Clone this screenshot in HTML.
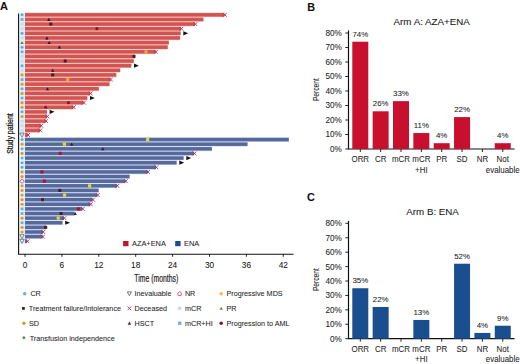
<!DOCTYPE html>
<html><head><meta charset="utf-8"><style>
html,body{margin:0;padding:0;background:#fff;}
body{width:520px;height:364px;overflow:hidden;}
svg{display:block;font-family:"Liberation Sans", sans-serif;}
text{stroke:#333;stroke-width:0.06px;}
</style></head><body>
<svg width="520" height="364" viewBox="0 0 520 364" fill="#111">
<rect width="520" height="364" fill="#fff"/>
<text x="0" y="10" font-size="11" font-weight="bold">A</text>
<text x="307.2" y="10.6" font-size="10.8" font-weight="bold">B</text>
<text x="307" y="200.8" font-size="10.9" font-weight="bold">C</text>
<rect x="19.6" y="12.6" width="4.8" height="122.6" fill="#e2eff9"/>
<rect x="19.6" y="137.0" width="4.8" height="106.5" fill="#eef5fb"/>
<rect x="23.5" y="12.6" width="1.0" height="231" fill="#c6e3f6"/>
<rect x="25.00" y="12.54" width="199.40" height="4.62" fill="#f3c0ba"/>
<rect x="25.00" y="17.16" width="178.40" height="4.62" fill="#f3c0ba"/>
<rect x="25.00" y="21.78" width="170.00" height="4.62" fill="#f3c0ba"/>
<rect x="25.00" y="26.40" width="156.00" height="4.62" fill="#f3c0ba"/>
<rect x="25.00" y="31.02" width="155.60" height="4.62" fill="#f3c0ba"/>
<rect x="25.00" y="35.64" width="155.10" height="4.62" fill="#f3c0ba"/>
<rect x="25.00" y="40.26" width="143.90" height="4.62" fill="#f3c0ba"/>
<rect x="25.00" y="44.88" width="142.70" height="4.62" fill="#f3c0ba"/>
<rect x="25.00" y="49.50" width="130.50" height="4.62" fill="#f3c0ba"/>
<rect x="25.00" y="54.12" width="109.80" height="4.62" fill="#f3c0ba"/>
<rect x="25.00" y="58.74" width="108.70" height="4.62" fill="#f3c0ba"/>
<rect x="25.00" y="63.36" width="106.30" height="4.62" fill="#f3c0ba"/>
<rect x="25.00" y="67.98" width="95.20" height="4.62" fill="#f3c0ba"/>
<rect x="25.00" y="72.60" width="91.30" height="4.62" fill="#f3c0ba"/>
<rect x="25.00" y="77.22" width="85.40" height="4.62" fill="#f3c0ba"/>
<rect x="25.00" y="81.84" width="84.40" height="4.62" fill="#f3c0ba"/>
<rect x="25.00" y="86.46" width="73.80" height="4.62" fill="#f3c0ba"/>
<rect x="25.00" y="91.08" width="65.20" height="4.62" fill="#f3c0ba"/>
<rect x="25.00" y="95.70" width="62.30" height="4.62" fill="#f3c0ba"/>
<rect x="25.00" y="100.32" width="58.50" height="4.62" fill="#f3c0ba"/>
<rect x="25.00" y="104.94" width="48.30" height="4.62" fill="#f3c0ba"/>
<rect x="25.00" y="109.56" width="21.90" height="4.62" fill="#f3c0ba"/>
<rect x="25.00" y="114.18" width="21.90" height="4.62" fill="#f3c0ba"/>
<rect x="25.00" y="118.80" width="20.60" height="4.62" fill="#f3c0ba"/>
<rect x="25.00" y="123.42" width="15.80" height="4.62" fill="#f3c0ba"/>
<rect x="25.00" y="128.04" width="14.80" height="4.62" fill="#f3c0ba"/>
<rect x="25.00" y="132.66" width="2.70" height="4.62" fill="#f3c0ba"/>
<rect x="25.00" y="137.28" width="263.80" height="4.62" fill="#cfd6ee"/>
<rect x="25.00" y="141.90" width="222.50" height="4.62" fill="#cfd6ee"/>
<rect x="25.00" y="146.52" width="186.90" height="4.62" fill="#cfd6ee"/>
<rect x="25.00" y="151.14" width="169.10" height="4.62" fill="#cfd6ee"/>
<rect x="25.00" y="155.76" width="158.60" height="4.62" fill="#cfd6ee"/>
<rect x="25.00" y="160.38" width="151.60" height="4.62" fill="#cfd6ee"/>
<rect x="25.00" y="165.00" width="131.00" height="4.62" fill="#cfd6ee"/>
<rect x="25.00" y="169.62" width="122.60" height="4.62" fill="#cfd6ee"/>
<rect x="25.00" y="174.24" width="104.60" height="4.62" fill="#cfd6ee"/>
<rect x="25.00" y="178.86" width="100.40" height="4.62" fill="#cfd6ee"/>
<rect x="25.00" y="183.48" width="91.90" height="4.62" fill="#cfd6ee"/>
<rect x="25.00" y="188.10" width="73.60" height="4.62" fill="#cfd6ee"/>
<rect x="25.00" y="192.72" width="72.30" height="4.62" fill="#cfd6ee"/>
<rect x="25.00" y="197.34" width="67.50" height="4.62" fill="#cfd6ee"/>
<rect x="25.00" y="201.96" width="65.30" height="4.62" fill="#cfd6ee"/>
<rect x="25.00" y="206.58" width="57.30" height="4.62" fill="#cfd6ee"/>
<rect x="25.00" y="211.20" width="49.60" height="4.62" fill="#cfd6ee"/>
<rect x="25.00" y="215.82" width="39.00" height="4.62" fill="#cfd6ee"/>
<rect x="25.00" y="220.44" width="37.50" height="4.62" fill="#cfd6ee"/>
<rect x="25.00" y="225.06" width="21.00" height="4.62" fill="#cfd6ee"/>
<rect x="25.00" y="229.68" width="17.80" height="4.62" fill="#cfd6ee"/>
<rect x="25.00" y="234.30" width="17.50" height="4.62" fill="#cfd6ee"/>
<rect x="25.00" y="238.92" width="2.10" height="4.62" fill="#cfd6ee"/>
<rect x="25.00" y="13.10" width="199.40" height="3.5" fill="#d25452"/>
<rect x="25.00" y="17.72" width="178.40" height="3.5" fill="#d25452"/>
<rect x="25.00" y="22.34" width="170.00" height="3.5" fill="#d25452"/>
<rect x="25.00" y="26.96" width="156.00" height="3.5" fill="#d25452"/>
<rect x="25.00" y="31.58" width="155.60" height="3.5" fill="#d25452"/>
<rect x="25.00" y="36.20" width="155.10" height="3.5" fill="#d25452"/>
<rect x="25.00" y="40.82" width="143.90" height="3.5" fill="#d25452"/>
<rect x="25.00" y="45.44" width="142.70" height="3.5" fill="#d25452"/>
<rect x="25.00" y="50.06" width="130.50" height="3.5" fill="#d25452"/>
<rect x="25.00" y="54.68" width="109.80" height="3.5" fill="#d25452"/>
<rect x="25.00" y="59.30" width="108.70" height="3.5" fill="#d25452"/>
<rect x="25.00" y="63.92" width="106.30" height="3.5" fill="#d25452"/>
<rect x="25.00" y="68.54" width="95.20" height="3.5" fill="#d25452"/>
<rect x="25.00" y="73.16" width="91.30" height="3.5" fill="#d25452"/>
<rect x="25.00" y="77.78" width="85.40" height="3.5" fill="#d25452"/>
<rect x="25.00" y="82.40" width="84.40" height="3.5" fill="#d25452"/>
<rect x="25.00" y="87.02" width="73.80" height="3.5" fill="#d25452"/>
<rect x="25.00" y="91.64" width="65.20" height="3.5" fill="#d25452"/>
<rect x="25.00" y="96.26" width="62.30" height="3.5" fill="#d25452"/>
<rect x="25.00" y="100.88" width="58.50" height="3.5" fill="#d25452"/>
<rect x="25.00" y="105.50" width="48.30" height="3.5" fill="#d25452"/>
<rect x="25.00" y="110.12" width="21.90" height="3.5" fill="#d25452"/>
<rect x="25.00" y="114.74" width="21.90" height="3.5" fill="#d25452"/>
<rect x="25.00" y="119.36" width="20.60" height="3.5" fill="#d25452"/>
<rect x="25.00" y="123.98" width="15.80" height="3.5" fill="#d25452"/>
<rect x="25.00" y="128.60" width="14.80" height="3.5" fill="#d25452"/>
<rect x="25.00" y="133.22" width="2.70" height="3.5" fill="#d25452"/>
<rect x="25.00" y="137.84" width="263.80" height="3.5" fill="#55699c"/>
<rect x="25.00" y="142.46" width="222.50" height="3.5" fill="#55699c"/>
<rect x="25.00" y="147.08" width="186.90" height="3.5" fill="#55699c"/>
<rect x="25.00" y="151.70" width="169.10" height="3.5" fill="#55699c"/>
<rect x="25.00" y="156.32" width="158.60" height="3.5" fill="#55699c"/>
<rect x="25.00" y="160.94" width="151.60" height="3.5" fill="#55699c"/>
<rect x="25.00" y="165.56" width="131.00" height="3.5" fill="#55699c"/>
<rect x="25.00" y="170.18" width="122.60" height="3.5" fill="#55699c"/>
<rect x="25.00" y="174.80" width="104.60" height="3.5" fill="#55699c"/>
<rect x="25.00" y="179.42" width="100.40" height="3.5" fill="#55699c"/>
<rect x="25.00" y="184.04" width="91.90" height="3.5" fill="#55699c"/>
<rect x="25.00" y="188.66" width="73.60" height="3.5" fill="#55699c"/>
<rect x="25.00" y="193.28" width="72.30" height="3.5" fill="#55699c"/>
<rect x="25.00" y="197.90" width="67.50" height="3.5" fill="#55699c"/>
<rect x="25.00" y="202.52" width="65.30" height="3.5" fill="#55699c"/>
<rect x="25.00" y="207.14" width="57.30" height="3.5" fill="#55699c"/>
<rect x="25.00" y="211.76" width="49.60" height="3.5" fill="#55699c"/>
<rect x="25.00" y="216.38" width="39.00" height="3.5" fill="#55699c"/>
<rect x="25.00" y="221.00" width="37.50" height="3.5" fill="#55699c"/>
<rect x="25.00" y="225.62" width="21.00" height="3.5" fill="#55699c"/>
<rect x="25.00" y="230.24" width="17.80" height="3.5" fill="#55699c"/>
<rect x="25.00" y="234.86" width="17.50" height="3.5" fill="#55699c"/>
<rect x="25.00" y="239.48" width="2.10" height="3.5" fill="#55699c"/>
<path d="M47.10 20.89L48.80 17.84L50.50 20.89Z" fill="#2c1838"/>
<rect x="49.30" y="22.59" width="3.00" height="3.00" fill="#45201a"/>
<circle cx="96.90" cy="28.71" r="1.60" fill="#9a1020"/>
<path d="M45.20 39.38L46.90 36.33L48.60 39.38Z" fill="#2c1838"/>
<path d="M47.50 43.99L49.20 40.95L50.90 43.99Z" fill="#2c1838"/>
<path d="M57.70 48.62L59.40 45.57L61.10 48.62Z" fill="#2c1838"/>
<rect x="144.40" y="50.21" width="3.2" height="3.2" rx="0.6" fill="#f2aa2a"/>
<rect x="132.50" y="54.93" width="3.00" height="3.00" fill="#45201a"/>
<rect x="63.70" y="59.55" width="3.00" height="3.00" fill="#45201a"/>
<path d="M51.00 71.71L52.70 68.66L54.40 71.71Z" fill="#2c1838"/>
<rect x="51.20" y="73.41" width="3.00" height="3.00" fill="#45201a"/>
<rect x="66.10" y="77.93" width="3.2" height="3.2" rx="0.6" fill="#f2aa2a"/>
<path d="M45.80 90.19L47.50 87.14L49.20 90.19Z" fill="#2c1838"/>
<circle cx="68.50" cy="102.63" r="1.60" fill="#9a1020"/>
<circle cx="45.60" cy="107.25" r="1.60" fill="#9a1020"/>
<path d="M36.10 137.99L37.70 139.59L36.10 141.19L34.50 139.59Z" fill="#3c8f4c"/>
<rect x="146.00" y="137.99" width="3.2" height="3.2" rx="0.6" fill="#e2dc2c"/>
<path d="M53.40 142.61L55.00 144.21L53.40 145.81L51.80 144.21Z" fill="#3c8f4c"/>
<rect x="62.80" y="142.61" width="3.2" height="3.2" rx="0.6" fill="#e2dc2c"/>
<path d="M70.00 145.64L71.70 142.59L73.40 145.64Z" fill="#2c1838"/>
<path d="M101.10 150.25L102.80 147.20L104.50 150.25Z" fill="#2c1838"/>
<rect x="58.60" y="151.85" width="3.2" height="3.2" rx="0.5" fill="#b0103a"/>
<path d="M53.40 156.47L55.00 158.07L53.40 159.67L51.80 158.07Z" fill="#3c8f4c"/>
<rect x="40.30" y="170.33" width="3.2" height="3.2" rx="0.5" fill="#b0103a"/>
<rect x="42.80" y="179.57" width="3.2" height="3.2" rx="0.5" fill="#b0103a"/>
<rect x="88.00" y="184.19" width="3.2" height="3.2" rx="0.6" fill="#e2dc2c"/>
<rect x="58.30" y="188.91" width="3.00" height="3.00" fill="#45201a"/>
<rect x="63.00" y="193.43" width="3.2" height="3.2" rx="0.6" fill="#e2dc2c"/>
<rect x="41.00" y="198.15" width="3.00" height="3.00" fill="#45201a"/>
<rect x="76.80" y="207.29" width="3.2" height="3.2" rx="0.5" fill="#b0103a"/>
<rect x="59.60" y="212.01" width="3.00" height="3.00" fill="#45201a"/>
<path d="M73.50 214.94L75.20 211.88L76.90 214.94Z" fill="#2c1838"/>
<rect x="56.60" y="216.53" width="3.2" height="3.2" rx="0.6" fill="#e2dc2c"/>
<rect x="44.20" y="225.87" width="3.00" height="3.00" fill="#45201a"/>
<path d="M222.90 12.95L226.70 16.75M226.70 12.95L222.90 16.75" stroke="#a82a50" stroke-width="0.9" fill="none"/>
<path d="M193.50 22.19L197.30 25.99M197.30 22.19L193.50 25.99" stroke="#a82a50" stroke-width="0.9" fill="none"/>
<path d="M179.50 26.81L183.30 30.61M183.30 26.81L179.50 30.61" stroke="#a82a50" stroke-width="0.9" fill="none"/>
<path d="M183.30 31.23L188.20 33.33L183.30 35.43Z" fill="#111"/>
<path d="M154.00 49.91L157.80 53.71M157.80 49.91L154.00 53.71" stroke="#a82a50" stroke-width="0.9" fill="none"/>
<path d="M134.00 63.57L138.90 65.67L134.00 67.77Z" fill="#111"/>
<path d="M108.90 77.63L112.70 81.43M112.70 77.63L108.90 81.43" stroke="#a82a50" stroke-width="0.9" fill="none"/>
<path d="M88.70 91.49L92.50 95.29M92.50 91.49L88.70 95.29" stroke="#a82a50" stroke-width="0.9" fill="none"/>
<path d="M90.00 95.91L94.90 98.01L90.00 100.11Z" fill="#111"/>
<path d="M82.00 100.73L85.80 104.53M85.80 100.73L82.00 104.53" stroke="#a82a50" stroke-width="0.9" fill="none"/>
<path d="M71.80 105.35L75.60 109.15M75.60 105.35L71.80 109.15" stroke="#a82a50" stroke-width="0.9" fill="none"/>
<path d="M49.60 109.77L54.50 111.87L49.60 113.97Z" fill="#111"/>
<path d="M45.40 114.59L49.20 118.39M49.20 114.59L45.40 118.39" stroke="#a82a50" stroke-width="0.9" fill="none"/>
<path d="M44.10 119.21L47.90 123.01M47.90 119.21L44.10 123.01" stroke="#a82a50" stroke-width="0.9" fill="none"/>
<path d="M39.30 123.83L43.10 127.63M43.10 123.83L39.30 127.63" stroke="#a82a50" stroke-width="0.9" fill="none"/>
<path d="M38.30 128.45L42.10 132.25M42.10 128.45L38.30 132.25" stroke="#a82a50" stroke-width="0.9" fill="none"/>
<path d="M26.20 133.07L30.00 136.87M30.00 133.07L26.20 136.87" stroke="#a82a50" stroke-width="0.9" fill="none"/>
<path d="M192.60 151.55L196.40 155.35M196.40 151.55L192.60 155.35" stroke="#a82a50" stroke-width="0.9" fill="none"/>
<path d="M186.30 155.97L191.20 158.07L186.30 160.17Z" fill="#111"/>
<path d="M179.30 160.59L184.20 162.69L179.30 164.79Z" fill="#111"/>
<path d="M154.50 165.41L158.30 169.21M158.30 165.41L154.50 169.21" stroke="#a82a50" stroke-width="0.9" fill="none"/>
<path d="M146.10 170.03L149.90 173.83M149.90 170.03L146.10 173.83" stroke="#a82a50" stroke-width="0.9" fill="none"/>
<path d="M123.90 179.27L127.70 183.07M127.70 179.27L123.90 183.07" stroke="#a82a50" stroke-width="0.9" fill="none"/>
<path d="M115.40 183.89L119.20 187.69M119.20 183.89L115.40 187.69" stroke="#a82a50" stroke-width="0.9" fill="none"/>
<path d="M95.80 193.13L99.60 196.93M99.60 193.13L95.80 196.93" stroke="#a82a50" stroke-width="0.9" fill="none"/>
<path d="M91.00 197.75L94.80 201.55M94.80 197.75L91.00 201.55" stroke="#a82a50" stroke-width="0.9" fill="none"/>
<path d="M88.80 202.37L92.60 206.17M92.60 202.37L88.80 206.17" stroke="#a82a50" stroke-width="0.9" fill="none"/>
<path d="M80.80 206.99L84.60 210.79M84.60 206.99L80.80 210.79" stroke="#a82a50" stroke-width="0.9" fill="none"/>
<path d="M62.50 216.23L66.30 220.03M66.30 216.23L62.50 220.03" stroke="#a82a50" stroke-width="0.9" fill="none"/>
<path d="M65.20 220.65L70.10 222.75L65.20 224.85Z" fill="#111"/>
<path d="M41.30 230.09L45.10 233.89M45.10 230.09L41.30 233.89" stroke="#a82a50" stroke-width="0.9" fill="none"/>
<path d="M41.00 234.71L44.80 238.51M44.80 234.71L41.00 238.51" stroke="#a82a50" stroke-width="0.9" fill="none"/>
<path d="M25.60 239.33L29.40 243.13M29.40 239.33L25.60 243.13" stroke="#a82a50" stroke-width="0.9" fill="none"/>
<circle cx="22.00" cy="14.85" r="1.50" fill="#55b0e0"/>
<rect x="20.60" y="18.07" width="2.80" height="2.80" fill="#73acd8"/>
<rect x="20.60" y="22.69" width="2.80" height="2.80" fill="#c9dced"/>
<rect x="20.60" y="27.31" width="2.80" height="2.80" fill="#c9dced"/>
<circle cx="22.00" cy="33.33" r="1.50" fill="#55b0e0"/>
<rect x="20.60" y="36.55" width="2.80" height="2.80" fill="#c9dced"/>
<path d="M20.30 43.99L22.00 40.95L23.70 43.99Z" fill="#9a6a2a"/>
<circle cx="22.00" cy="47.19" r="1.50" fill="#55b0e0"/>
<circle cx="22.00" cy="51.81" r="1.50" fill="#55b0e0"/>
<rect x="20.60" y="55.03" width="2.80" height="2.80" fill="#c9dced"/>
<rect x="20.60" y="59.65" width="2.80" height="2.80" fill="#c9dced"/>
<circle cx="22.00" cy="65.67" r="1.50" fill="#55b0e0"/>
<rect x="20.60" y="68.89" width="2.80" height="2.80" fill="#c9dced"/>
<circle cx="22.00" cy="74.91" r="1.60" fill="#e49a2a"/>
<rect x="20.60" y="78.13" width="2.80" height="2.80" fill="#73acd8"/>
<circle cx="22.00" cy="84.15" r="1.60" fill="#e49a2a"/>
<circle cx="22.00" cy="88.77" r="1.50" fill="#55b0e0"/>
<circle cx="22.00" cy="93.39" r="1.60" fill="#e49a2a"/>
<circle cx="22.00" cy="98.01" r="1.50" fill="#55b0e0"/>
<circle cx="22.00" cy="102.63" r="1.60" fill="#e49a2a"/>
<circle cx="22.00" cy="107.25" r="1.60" fill="#e49a2a"/>
<circle cx="22.00" cy="111.87" r="1.50" fill="#55b0e0"/>
<circle cx="22.00" cy="116.49" r="1.60" fill="#e49a2a"/>
<rect x="20.60" y="119.71" width="2.80" height="2.80" fill="#c9dced"/>
<rect x="20.60" y="124.33" width="2.80" height="2.80" fill="#c9dced"/>
<rect x="20.60" y="128.95" width="2.80" height="2.80" fill="#c9dced"/>
<path d="M19.80 133.07L24.20 133.07L22.00 137.17Z" fill="none" stroke="#6a6a6a" stroke-width="0.8"/>
<circle cx="22.00" cy="139.59" r="1.50" fill="#55b0e0"/>
<circle cx="22.00" cy="144.21" r="1.60" fill="#e49a2a"/>
<circle cx="22.00" cy="148.83" r="1.50" fill="#55b0e0"/>
<circle cx="22.00" cy="153.45" r="1.60" fill="#e49a2a"/>
<circle cx="22.00" cy="158.07" r="1.50" fill="#55b0e0"/>
<circle cx="22.00" cy="162.69" r="1.50" fill="#55b0e0"/>
<circle cx="22.00" cy="167.31" r="1.50" fill="#55b0e0"/>
<circle cx="22.00" cy="171.93" r="1.60" fill="#e49a2a"/>
<circle cx="22.00" cy="176.55" r="1.60" fill="#e49a2a"/>
<path d="M22.00 178.87L24.30 181.17L22.00 183.47L19.70 181.17Z" fill="none" stroke="#e0409a" stroke-width="0.9"/>
<circle cx="22.00" cy="185.79" r="1.60" fill="#e49a2a"/>
<circle cx="22.00" cy="190.41" r="1.60" fill="#e49a2a"/>
<circle cx="22.00" cy="195.03" r="1.60" fill="#e49a2a"/>
<circle cx="22.00" cy="199.65" r="1.60" fill="#e49a2a"/>
<circle cx="22.00" cy="204.27" r="1.60" fill="#e49a2a"/>
<rect x="20.60" y="207.49" width="2.80" height="2.80" fill="#73acd8"/>
<rect x="20.60" y="212.11" width="2.80" height="2.80" fill="#73acd8"/>
<circle cx="22.00" cy="218.13" r="1.60" fill="#e49a2a"/>
<rect x="20.60" y="221.35" width="2.80" height="2.80" fill="#73acd8"/>
<circle cx="22.00" cy="227.37" r="1.60" fill="#e49a2a"/>
<circle cx="22.00" cy="231.99" r="1.60" fill="#e49a2a"/>
<path d="M19.80 234.71L24.20 234.71L22.00 238.81Z" fill="none" stroke="#6a6a6a" stroke-width="0.8"/>
<path d="M19.80 239.33L24.20 239.33L22.00 243.43Z" fill="none" stroke="#6a6a6a" stroke-width="0.8"/>
<path d="M18.6 13.6V254.3H293.5" stroke="#111" stroke-width="1.1" fill="none"/>
<path d="M25.00 254V256.8" stroke="#111" stroke-width="0.9"/>
<text x="25.00" y="268.3" font-size="8.3" text-anchor="middle">0</text>
<path d="M61.90 254V256.8" stroke="#111" stroke-width="0.9"/>
<text x="61.90" y="268.3" font-size="8.3" text-anchor="middle">6</text>
<path d="M98.80 254V256.8" stroke="#111" stroke-width="0.9"/>
<text x="98.80" y="268.3" font-size="8.3" text-anchor="middle">12</text>
<path d="M135.70 254V256.8" stroke="#111" stroke-width="0.9"/>
<text x="135.70" y="268.3" font-size="8.3" text-anchor="middle">18</text>
<path d="M172.60 254V256.8" stroke="#111" stroke-width="0.9"/>
<text x="172.60" y="268.3" font-size="8.3" text-anchor="middle">24</text>
<path d="M209.50 254V256.8" stroke="#111" stroke-width="0.9"/>
<text x="209.50" y="268.3" font-size="8.3" text-anchor="middle">30</text>
<path d="M246.40 254V256.8" stroke="#111" stroke-width="0.9"/>
<text x="246.40" y="268.3" font-size="8.3" text-anchor="middle">36</text>
<path d="M283.30 254V256.8" stroke="#111" stroke-width="0.9"/>
<text x="283.30" y="268.3" font-size="8.3" text-anchor="middle">42</text>
<text transform="translate(156.3 281.7) scale(0.685 1)" font-size="10" style="stroke:#222;stroke-width:0.2px" text-anchor="middle" fill="#1a1a1a">Time (months)</text>
<text transform="translate(12.5 133.6) rotate(-90) scale(0.8 1)" font-size="8.7" text-anchor="middle" style="stroke:#111;stroke-width:0.22px">Study patient</text>
<rect x="123.1" y="241.0" width="5.4" height="5.2" fill="#c8102e"/>
<text x="132.0" y="246.3" font-size="7.4" fill="#222">AZA+ENA</text>
<rect x="175.2" y="241.0" width="5.4" height="5.2" fill="#1a4f8f"/>
<text x="184.1" y="246.3" font-size="7.4" fill="#222">ENA</text>
<circle cx="24.7" cy="293.7" r="1.75" fill="#62b4de"/>
<text transform="translate(30.4 296.45) scale(0.94 1)" font-size="7.7" fill="#222">CR</text>
<rect x="22.00" y="307.00" width="2.80" height="2.80" fill="#45201a"/>
<text transform="translate(28.8 311.15) scale(0.94 1)" font-size="7.7" fill="#222">Treatment failure/Intolerance</text>
<circle cx="23.9" cy="323.2" r="1.75" fill="#cfa23a"/>
<text transform="translate(28.9 325.95) scale(0.94 1)" font-size="7.7" fill="#222">SD</text>
<path d="M23.90 336.10L25.60 337.80L23.90 339.50L22.20 337.80Z" fill="#3c8f4c"/>
<text transform="translate(29.7 340.55) scale(0.94 1)" font-size="7.7" fill="#222">Transfusion independence</text>
<path d="M127.30 291.90L131.50 291.90L129.40 295.70Z" fill="none" stroke="#555" stroke-width="0.8"/>
<text transform="translate(134.5 296.45) scale(0.94 1)" font-size="7.7" fill="#222">Inevaluable</text>
<path d="M127.60 306.60L131.20 310.20M131.20 306.60L127.60 310.20" stroke="#c42e5e" stroke-width="0.95" fill="none"/>
<text transform="translate(134.5 311.15) scale(0.94 1)" font-size="7.7" fill="#222">Deceased</text>
<path d="M127.70 324.70L129.40 321.50L131.10 324.70Z" fill="#4a1a52"/>
<text transform="translate(134.5 325.95) scale(0.94 1)" font-size="7.7" fill="#222">HSCT</text>
<path d="M179.70 291.60L181.80 293.30L181.00 295.60L178.40 295.60L177.60 293.30Z" fill="none" stroke="#d8367e" stroke-width="0.85"/>
<text transform="translate(184.9 296.45) scale(0.94 1)" font-size="7.7" fill="#222">NR</text>
<rect x="178.05" y="306.75" width="3.30" height="3.30" fill="#c9dced"/>
<text transform="translate(184.9 311.15) scale(0.94 1)" font-size="7.7" fill="#222">mCR</text>
<rect x="178.05" y="321.55" width="3.30" height="3.30" fill="#73acd8"/>
<text transform="translate(184.9 325.95) scale(0.94 1)" font-size="7.7" fill="#222">mCR+HI</text>
<circle cx="221.2" cy="293.7" r="1.7" fill="#f0c030"/>
<text transform="translate(226.4 296.45) scale(0.94 1)" font-size="7.7" fill="#222">Progressive MDS</text>
<path d="M219.50 309.82L221.20 306.77L222.90 309.82Z" fill="#9a6a2a"/>
<text transform="translate(226.4 311.15) scale(0.94 1)" font-size="7.7" fill="#222">PR</text>
<circle cx="221.2" cy="323.2" r="1.75" fill="#8e1020"/>
<text transform="translate(226.4 325.95) scale(0.94 1)" font-size="7.7" fill="#222">Progression to AML</text>
<path d="M348.5 30.60V149.00H514.5" stroke="#111" stroke-width="1.2" fill="none"/>
<path d="M345.3 149.00H348.5" stroke="#111" stroke-width="0.9"/>
<text x="341.9" y="151.90" font-size="8.2" text-anchor="end" fill="#222">0%</text>
<path d="M345.3 134.50H348.5" stroke="#111" stroke-width="0.9"/>
<text x="341.9" y="137.40" font-size="8.2" text-anchor="end" fill="#222">10%</text>
<path d="M345.3 120.00H348.5" stroke="#111" stroke-width="0.9"/>
<text x="341.9" y="122.90" font-size="8.2" text-anchor="end" fill="#222">20%</text>
<path d="M345.3 105.50H348.5" stroke="#111" stroke-width="0.9"/>
<text x="341.9" y="108.40" font-size="8.2" text-anchor="end" fill="#222">30%</text>
<path d="M345.3 91.00H348.5" stroke="#111" stroke-width="0.9"/>
<text x="341.9" y="93.90" font-size="8.2" text-anchor="end" fill="#222">40%</text>
<path d="M345.3 76.50H348.5" stroke="#111" stroke-width="0.9"/>
<text x="341.9" y="79.40" font-size="8.2" text-anchor="end" fill="#222">50%</text>
<path d="M345.3 62.00H348.5" stroke="#111" stroke-width="0.9"/>
<text x="341.9" y="64.90" font-size="8.2" text-anchor="end" fill="#222">60%</text>
<path d="M345.3 47.50H348.5" stroke="#111" stroke-width="0.9"/>
<text x="341.9" y="50.40" font-size="8.2" text-anchor="end" fill="#222">70%</text>
<path d="M345.3 33.00H348.5" stroke="#111" stroke-width="0.9"/>
<text x="341.9" y="35.90" font-size="8.2" text-anchor="end" fill="#222">80%</text>
<text x="393.6" y="25.2" font-size="9.75" fill="#111">Arm A: AZA+ENA</text>
<path d="M360.30 149.00V152.00" stroke="#111" stroke-width="0.9"/>
<rect x="352.30" y="41.70" width="16.0" height="107.30" fill="#c8102e"/>
<text x="360.30" y="36.50" font-size="7.9" text-anchor="middle" fill="#222">74%</text>
<text transform="translate(360.30 162.30) scale(0.92 1)" font-size="8.6" text-anchor="middle" fill="#222">ORR</text>
<path d="M380.65 149.00V152.00" stroke="#111" stroke-width="0.9"/>
<rect x="372.65" y="111.30" width="16.0" height="37.70" fill="#c8102e"/>
<text x="380.65" y="106.10" font-size="7.9" text-anchor="middle" fill="#222">26%</text>
<text transform="translate(380.65 162.30) scale(0.92 1)" font-size="8.6" text-anchor="middle" fill="#222">CR</text>
<path d="M401.00 149.00V152.00" stroke="#111" stroke-width="0.9"/>
<rect x="393.00" y="101.15" width="16.0" height="47.85" fill="#c8102e"/>
<text x="401.00" y="95.95" font-size="7.9" text-anchor="middle" fill="#222">33%</text>
<text transform="translate(401.00 162.30) scale(0.92 1)" font-size="8.6" text-anchor="middle" fill="#222">mCR</text>
<path d="M421.35 149.00V152.00" stroke="#111" stroke-width="0.9"/>
<rect x="413.35" y="133.05" width="16.0" height="15.95" fill="#c8102e"/>
<text x="421.35" y="127.85" font-size="7.9" text-anchor="middle" fill="#222">11%</text>
<text transform="translate(421.35 162.30) scale(0.92 1)" font-size="8.6" text-anchor="middle" fill="#222">mCR</text>
<text transform="translate(421.35 172.60) scale(0.92 1)" font-size="8.6" text-anchor="middle" fill="#222">+HI</text>
<path d="M441.70 149.00V152.00" stroke="#111" stroke-width="0.9"/>
<rect x="433.70" y="143.20" width="16.0" height="5.80" fill="#c8102e"/>
<text x="441.70" y="138.00" font-size="7.9" text-anchor="middle" fill="#222">4%</text>
<text transform="translate(441.70 162.30) scale(0.92 1)" font-size="8.6" text-anchor="middle" fill="#222">PR</text>
<path d="M462.05 149.00V152.00" stroke="#111" stroke-width="0.9"/>
<rect x="454.05" y="117.10" width="16.0" height="31.90" fill="#c8102e"/>
<text x="462.05" y="111.90" font-size="7.9" text-anchor="middle" fill="#222">22%</text>
<text transform="translate(462.05 162.30) scale(0.92 1)" font-size="8.6" text-anchor="middle" fill="#222">SD</text>
<path d="M482.40 149.00V152.00" stroke="#111" stroke-width="0.9"/>
<text transform="translate(482.40 162.30) scale(0.92 1)" font-size="8.6" text-anchor="middle" fill="#222">NR</text>
<path d="M502.75 149.00V152.00" stroke="#111" stroke-width="0.9"/>
<rect x="494.75" y="143.20" width="16.0" height="5.80" fill="#c8102e"/>
<text x="502.75" y="138.00" font-size="7.9" text-anchor="middle" fill="#222">4%</text>
<text transform="translate(502.75 162.30) scale(0.92 1)" font-size="8.6" text-anchor="middle" fill="#222">Not</text>
<text transform="translate(502.75 172.60) scale(0.92 1)" font-size="8.6" text-anchor="middle" fill="#222">evaluable</text>
<text transform="translate(319.4 89.6) rotate(-90) scale(0.76 1)" font-size="8.8" text-anchor="middle">Percent</text>
<path d="M348.5 220.94V338.70H514.5" stroke="#111" stroke-width="1.2" fill="none"/>
<path d="M345.3 338.70H348.5" stroke="#111" stroke-width="0.9"/>
<text x="341.9" y="341.60" font-size="8.2" text-anchor="end" fill="#222">0%</text>
<path d="M345.3 324.28H348.5" stroke="#111" stroke-width="0.9"/>
<text x="341.9" y="327.18" font-size="8.2" text-anchor="end" fill="#222">10%</text>
<path d="M345.3 309.86H348.5" stroke="#111" stroke-width="0.9"/>
<text x="341.9" y="312.76" font-size="8.2" text-anchor="end" fill="#222">20%</text>
<path d="M345.3 295.44H348.5" stroke="#111" stroke-width="0.9"/>
<text x="341.9" y="298.34" font-size="8.2" text-anchor="end" fill="#222">30%</text>
<path d="M345.3 281.02H348.5" stroke="#111" stroke-width="0.9"/>
<text x="341.9" y="283.92" font-size="8.2" text-anchor="end" fill="#222">40%</text>
<path d="M345.3 266.60H348.5" stroke="#111" stroke-width="0.9"/>
<text x="341.9" y="269.50" font-size="8.2" text-anchor="end" fill="#222">50%</text>
<path d="M345.3 252.18H348.5" stroke="#111" stroke-width="0.9"/>
<text x="341.9" y="255.08" font-size="8.2" text-anchor="end" fill="#222">60%</text>
<path d="M345.3 237.76H348.5" stroke="#111" stroke-width="0.9"/>
<text x="341.9" y="240.66" font-size="8.2" text-anchor="end" fill="#222">70%</text>
<path d="M345.3 223.34H348.5" stroke="#111" stroke-width="0.9"/>
<text x="341.9" y="226.24" font-size="8.2" text-anchor="end" fill="#222">80%</text>
<text x="406.3" y="215.0" font-size="9.75" fill="#111">Arm B: ENA</text>
<path d="M360.30 338.70V341.70" stroke="#111" stroke-width="0.9"/>
<rect x="352.30" y="288.23" width="16.0" height="50.47" fill="#1a4f8f"/>
<text x="360.30" y="283.03" font-size="7.9" text-anchor="middle" fill="#222">35%</text>
<text transform="translate(360.30 351.70) scale(0.92 1)" font-size="8.6" text-anchor="middle" fill="#222">ORR</text>
<path d="M380.65 338.70V341.70" stroke="#111" stroke-width="0.9"/>
<rect x="372.65" y="306.98" width="16.0" height="31.72" fill="#1a4f8f"/>
<text x="380.65" y="301.78" font-size="7.9" text-anchor="middle" fill="#222">22%</text>
<text transform="translate(380.65 351.70) scale(0.92 1)" font-size="8.6" text-anchor="middle" fill="#222">CR</text>
<path d="M401.00 338.70V341.70" stroke="#111" stroke-width="0.9"/>
<text transform="translate(401.00 351.70) scale(0.92 1)" font-size="8.6" text-anchor="middle" fill="#222">mCR</text>
<path d="M421.35 338.70V341.70" stroke="#111" stroke-width="0.9"/>
<rect x="413.35" y="319.95" width="16.0" height="18.75" fill="#1a4f8f"/>
<text x="421.35" y="314.75" font-size="7.9" text-anchor="middle" fill="#222">13%</text>
<text transform="translate(421.35 351.70) scale(0.92 1)" font-size="8.6" text-anchor="middle" fill="#222">mCR</text>
<text transform="translate(421.35 362.00) scale(0.92 1)" font-size="8.6" text-anchor="middle" fill="#222">+HI</text>
<path d="M441.70 338.70V341.70" stroke="#111" stroke-width="0.9"/>
<text transform="translate(441.70 351.70) scale(0.92 1)" font-size="8.6" text-anchor="middle" fill="#222">PR</text>
<path d="M462.05 338.70V341.70" stroke="#111" stroke-width="0.9"/>
<rect x="454.05" y="263.72" width="16.0" height="74.98" fill="#1a4f8f"/>
<text x="462.05" y="258.52" font-size="7.9" text-anchor="middle" fill="#222">52%</text>
<text transform="translate(462.05 351.70) scale(0.92 1)" font-size="8.6" text-anchor="middle" fill="#222">SD</text>
<path d="M482.40 338.70V341.70" stroke="#111" stroke-width="0.9"/>
<rect x="474.40" y="332.93" width="16.0" height="5.77" fill="#1a4f8f"/>
<text x="482.40" y="327.73" font-size="7.9" text-anchor="middle" fill="#222">4%</text>
<text transform="translate(482.40 351.70) scale(0.92 1)" font-size="8.6" text-anchor="middle" fill="#222">NR</text>
<path d="M502.75 338.70V341.70" stroke="#111" stroke-width="0.9"/>
<rect x="494.75" y="325.72" width="16.0" height="12.98" fill="#1a4f8f"/>
<text x="502.75" y="320.52" font-size="7.9" text-anchor="middle" fill="#222">9%</text>
<text transform="translate(502.75 351.70) scale(0.92 1)" font-size="8.6" text-anchor="middle" fill="#222">Not</text>
<text transform="translate(502.75 362.00) scale(0.92 1)" font-size="8.6" text-anchor="middle" fill="#222">evaluable</text>
<text transform="translate(319.4 279.6) rotate(-90) scale(0.76 1)" font-size="8.8" text-anchor="middle">Percent</text>
</svg>
</body></html>
